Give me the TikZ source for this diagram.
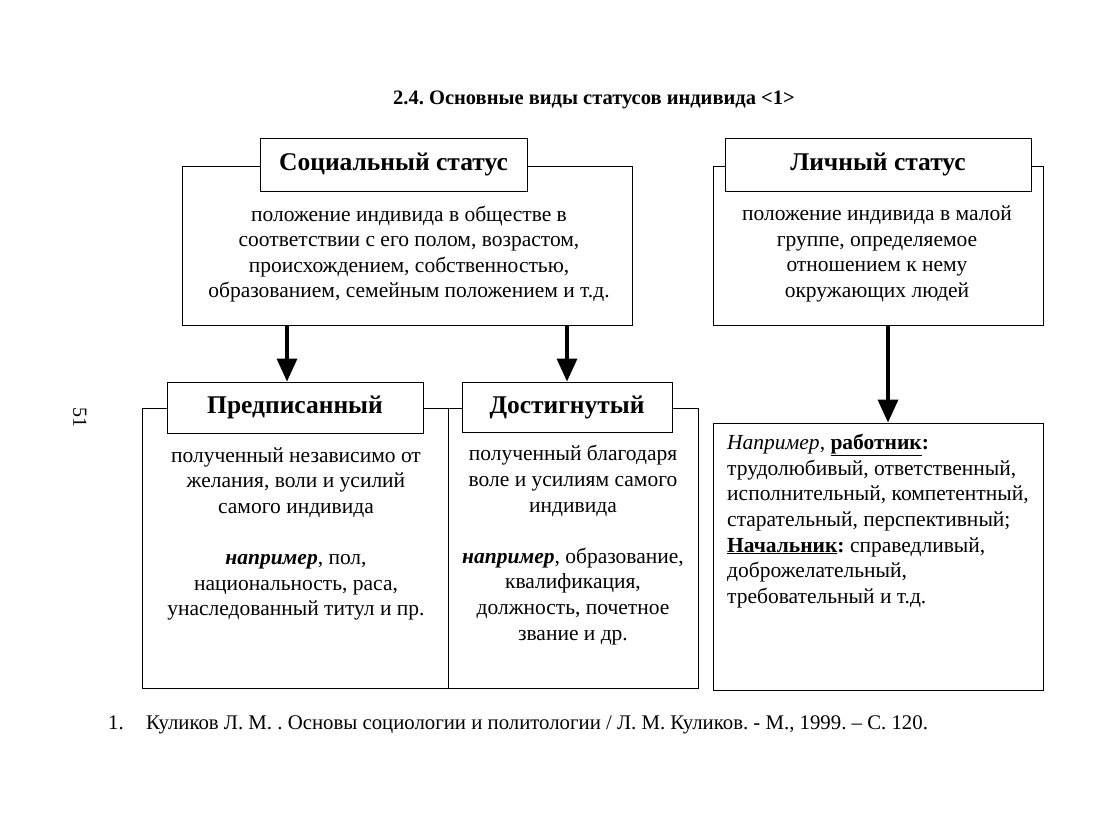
\documentclass[tikz,border=0pt]{standalone}
\usepackage{fontspec}
\setmainfont{Liberation Serif}
\usetikzlibrary{arrows.meta}
\frenchspacing
\begin{document}
\begin{tikzpicture}[x=1pt,y=-1pt,
  outer/.style={draw,line width=0.9pt,inner sep=0pt},
  head/.style={draw,line width=0.9pt,fill=white,inner sep=0pt,font=\fontsize{25.5}{28}\selectfont\bfseries},
  body/.style={font=\fontsize{21.5}{25.6}\selectfont,align=center,inner sep=0pt},
  foot/.style={font=\fontsize{20.8}{24}\selectfont,inner sep=0pt,anchor=base west},
  arr/.style={line width=3.5pt,-{Triangle[length=23pt,width=20pt]}}]
\useasboundingbox (0,0) rectangle (1100,825);
\fill[white] (0,0) rectangle (1100,825);

\node[font=\fontsize{20.5}{24}\selectfont\bfseries] (title) at (594,100) {2.4. Основные виды статусов индивида <1>};
\node[rotate=-90,font=\fontsize{20}{24}\selectfont] (page) at (80,417) {51};

% top-left
\node[outer,minimum width=450pt,minimum height=159pt] (soc) at (407,245.5) {};
\node[head,minimum width=267pt,minimum height=53pt] (socH) at (393.5,164.5) {Социальный статус};
\node[body] (socT) at (409,254) {положение индивида в обществе в\\соответствии с его полом, возрастом,\\происхождением, собственностью,\\образованием, семейным положением и т.д.};

% top-right
\node[outer,minimum width=330pt,minimum height=159pt] (lich) at (878,245.5) {};
\node[head,minimum width=306pt,minimum height=53pt] (lichH) at (878,164.5) {Личный статус};
\node[body] (lichT) at (877,254) {положение индивида в малой\\группе, определяемое\\отношением к нему\\окружающих людей};

% bottom-left
\node[outer,minimum width=306pt,minimum height=280pt] (pre) at (295,548) {};
\node[head,minimum width=256pt,minimum height=51pt] (preH) at (295,407.5) {Предписанный};
\node[body] (preT) at (296,534) {полученный независимо от\\желания, воли и усилий\\самого индивида\\[25.6pt]\textbf{\textit{например}}, пол,\\национальность, раса,\\унаследованный титул и пр.};

% bottom-middle
\node[outer,minimum width=250pt,minimum height=280pt] (dos) at (573,548) {};
\node[head,minimum width=210pt,minimum height=50pt] (dosH) at (567,407) {Достигнутый};
\node[body] (dosT) at (573,545) {полученный благодаря\\воле и усилиям самого\\индивида\\[25.6pt]\textbf{\textit{например}}, образование,\\квалификация,\\должность, почетное\\звание и др.};

% bottom-right
\node[outer,minimum width=330pt,minimum height=267pt] (ex) at (878,556.5) {};
\node[body,align=left,anchor=west] (exT) at (727,521) {\textit{Например}, \textbf{\underline{работник}:}\\трудолюбивый, ответственный,\\исполнительный, компетентный,\\старательный, перспективный;\\\textbf{\underline{Начальник}:} справедливый,\\доброжелательный,\\требовательный и т.д.};

% arrows
\coordinate (a1) at (287,0);
\coordinate (a2) at (567,0);
\coordinate (a3) at (888,0);
\draw[arr] (soc.south -| a1) -- (preH.north -| a1);
\draw[arr] (soc.south -| a2) -- (dosH.north -| a2);
\draw[arr] (lich.south -| a3) -- (ex.north -| a3);

% footnote
\node[foot] (fn1) at (108,729) {1.};
\node[foot] (fn) at (146,729) {Куликов Л. М. . Основы социологии и политологии / Л. М. Куликов. - М., 1999. – С. 120.};
\end{tikzpicture}
\end{document}
